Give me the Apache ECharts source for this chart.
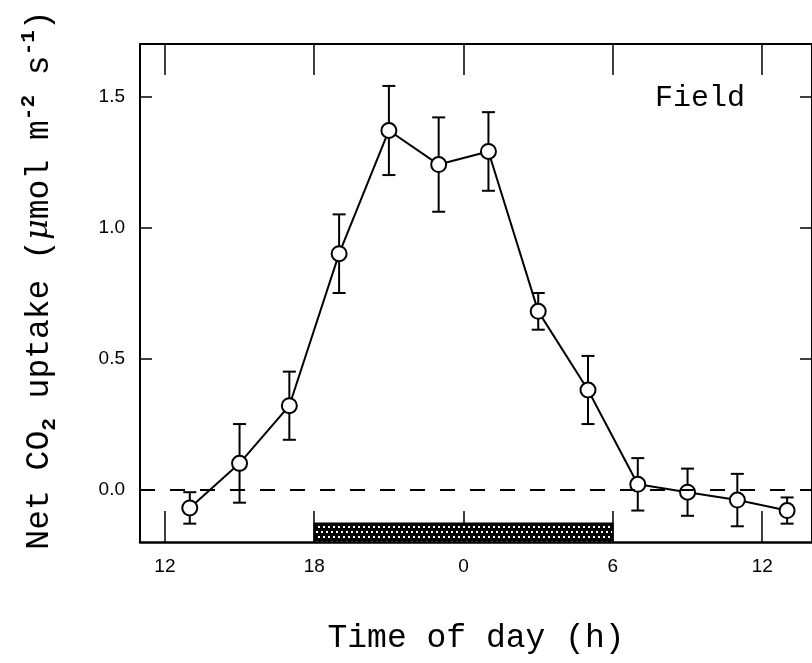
<!DOCTYPE html>
<html>
<head>
<meta charset="utf-8">
<script src="https://cdn.jsdelivr.net/npm/echarts@6/dist/echarts.min.js"></script>
<style>
  html, body { margin: 0; padding: 0; background: #fff; }
  #chart { width: 812px; height: 663px; }
</style>
</head>
<body>
<div id="chart"></div>
<script>
// time of day in hours (24 = midnight, 36 = noon next day)
var hours = [13, 15, 17, 19, 21, 23, 25, 27, 29, 31, 33, 35, 37];
var uptake = [-0.07, 0.10, 0.32, 0.90, 1.37, 1.24, 1.29, 0.68, 0.38, 0.02, -0.01, -0.04, -0.08];
var stdErr = [0.06, 0.15, 0.13, 0.15, 0.17, 0.18, 0.15, 0.07, 0.13, 0.10, 0.09, 0.10, 0.05];
var xTicks = [12, 18, 24, 30, 36];
var yTicks = [0, 0.5, 1.0, 1.5];
var darkPeriod = [18, 30];

var mono = 'Liberation Mono';
var sans = 'Liberation Sans';

// dotted dark pattern for the night bar
var pat = document.createElement('canvas');
pat.width = 10; pat.height = 10;
var pctx = pat.getContext('2d');
pctx.fillStyle = '#000';
pctx.fillRect(0, 0, 10, 10);
pctx.fillStyle = '#fff';
[[1, 1], [6, 1], [3, 6], [8, 6]].forEach(function (p) {
	pctx.fillRect(p[0], p[1], 2, 2);
});

var pts = hours.map(function (h, i) { return [h, uptake[i]]; });
var errs = hours.map(function (h, i) { return [h, uptake[i], stdErr[i]]; });

var axisLine = { show: true, onZero: false, lineStyle: { color: '#000', width: 2 } };

var option = {
	backgroundColor: '#fff',
	animation: false,
	grid: { left: 140, right: -5, top: 44, bottom: 121 },
	xAxis: [{
		type: 'value',
		min: 11,
		max: 38,
		position: 'bottom',
		axisLine: { show: true, onZero: false, lineStyle: { color: '#000', width: 2.5 } },
		axisTick: { inside: true, length: 31, customValues: xTicks, lineStyle: { color: '#000', width: 1.5 } },
		axisLabel: {
			customValues: xTicks,
			margin: 15,
			color: '#000',
			fontFamily: sans,
			fontSize: 19,
			formatter: function (v) { return String(v % 24); }
		},
		splitLine: { show: false },
		name: 'Time of day (h)',
		nameLocation: 'middle',
		nameGap: 80,
		nameTextStyle: { fontFamily: mono, fontSize: 33, color: '#000' }
	}, {
		type: 'value',
		min: 11,
		max: 38,
		position: 'top',
		axisLine: axisLine,
		axisTick: { inside: true, length: 31, customValues: xTicks, lineStyle: { color: '#000', width: 1.5 } },
		axisLabel: { show: false },
		splitLine: { show: false }
	}],
	yAxis: [{
		type: 'value',
		min: -0.2,
		max: 1.7,
		position: 'left',
		axisLine: axisLine,
		axisTick: { inside: true, length: 12, customValues: yTicks, lineStyle: { color: '#000', width: 1.5 } },
		axisLabel: {
			customValues: yTicks,
			margin: 15,
			color: '#000',
			fontFamily: sans,
			fontSize: 19,
			formatter: function (v) { return v.toFixed(1); }
		},
		splitLine: { show: false },
		name: 'Net CO{sub|2} uptake ({mu|μ}mol m{sup|-2} s{sup|-1})',
		nameLocation: 'middle',
		nameRotate: 90,
		nameGap: 80,
		nameTextStyle: {
			fontFamily: mono, fontSize: 33, color: '#000', lineHeight: 42,
			padding: [0, 0, 0, 26],
			rich: {
				sub: { fontFamily: mono, fontSize: 21, fontWeight: 'bold', color: '#000', verticalAlign: 'bottom', lineHeight: 42 },
				sup: { fontFamily: mono, fontSize: 21, fontWeight: 'bold', color: '#000', verticalAlign: 'top', lineHeight: 42 },
				mu: { fontFamily: 'DejaVu Serif', fontSize: 32, fontStyle: 'italic', color: '#000', lineHeight: 42 }
			}
		}
	}, {
		type: 'value',
		min: -0.2,
		max: 1.7,
		position: 'right',
		axisLine: axisLine,
		axisTick: { inside: true, length: 12, customValues: yTicks, lineStyle: { color: '#000', width: 1.5 } },
		axisLabel: { show: false },
		splitLine: { show: false }
	}],
	graphic: [{
		type: 'text',
		left: 655,
		top: 83,
		style: { text: 'Field', fontFamily: mono, fontSize: 30, fill: '#000' }
	}],
	series: [{
		// night period bar
		type: 'custom',
		z: 1,
		data: [darkPeriod],
		renderItem: function (params, api) {
			var a = api.coord([api.value(0), -0.2]);
			var b = api.coord([api.value(1), -0.128]);
			return {
				type: 'rect',
				shape: { x: a[0], y: b[1], width: b[0] - a[0], height: a[1] - b[1] },
				style: { fill: { image: pat, repeat: 'repeat' }, stroke: '#000', lineWidth: 1.5 }
			};
		}
	}, {
		// error bars
		type: 'custom',
		z: 2,
		data: errs,
		renderItem: function (params, api) {
			var x = api.value(0), y = api.value(1), e = api.value(2);
			var t = api.coord([x, y + e]);
			var b = api.coord([x, y - e]);
			var w = 6.5;
			var st = { stroke: '#000', lineWidth: 2 };
			return {
				type: 'group',
				children: [
					{ type: 'line', shape: { x1: t[0], y1: t[1], x2: b[0], y2: b[1] }, style: st },
					{ type: 'line', shape: { x1: t[0] - w, y1: t[1], x2: t[0] + w, y2: t[1] }, style: st },
					{ type: 'line', shape: { x1: b[0] - w, y1: b[1], x2: b[0] + w, y2: b[1] }, style: st }
				]
			};
		}
	}, {
		type: 'line',
		z: 3,
		data: pts,
		symbol: 'circle',
		symbolSize: 15,
		itemStyle: { color: '#fff', borderColor: '#000', borderWidth: 2 },
		lineStyle: { color: '#000', width: 2 },
		markLine: {
			silent: true,
			symbol: 'none',
			label: { show: false },
			lineStyle: { color: '#000', width: 2, type: [15, 15] },
			data: [{ yAxis: 0 }]
		}
	}]
};

var myChart = echarts.init(document.getElementById('chart'));
myChart.setOption(option);
</script>
</body>
</html>
